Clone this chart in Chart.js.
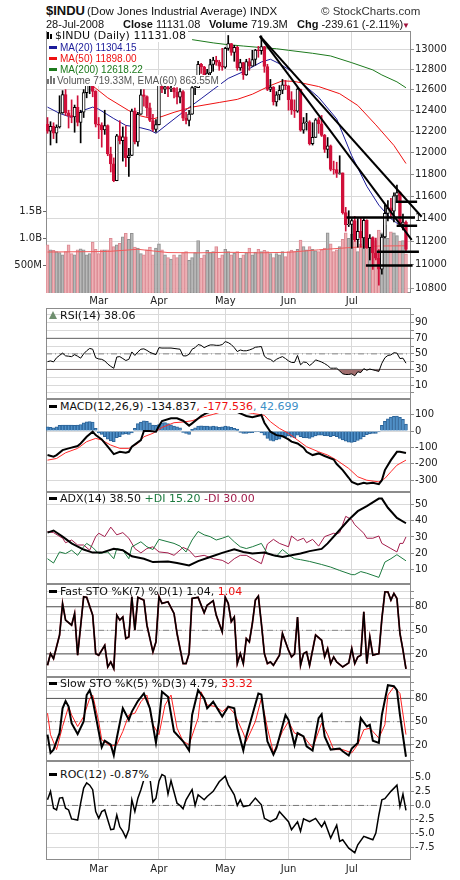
<!DOCTYPE html>
<html>
<head>
<meta charset="utf-8">
<title>$INDU</title>
<script src="https://cdn.jsdelivr.net/npm/chart.js@4.4.1/dist/chart.umd.min.js"></script>
<style>
  body { margin:0; width:460px; height:880px; position:relative; overflow:hidden; background:#fff; }
  canvas { position:absolute; left:0; }
  .t { position:absolute; white-space:nowrap; line-height:13px; font-family:"Liberation Sans", Arial, sans-serif; color:#111; z-index:2; }
  .lg { position:absolute; left:47px; white-space:nowrap; line-height:13px; font:11px "DejaVu Sans", Verdana, sans-serif; color:#111; z-index:2; }
  .bg { background:#fff; padding-right:2px; }
  .ml { font:10px "Liberation Sans", Arial, sans-serif; line-height:11px; }
  .dash { display:inline-block; width:8px; height:3px; background:#000; vertical-align:middle; margin:0 3px 2px 2px; }
  .bar { display:inline-block; width:2px; background:#777; margin-right:1px; vertical-align:baseline; }
</style>
</head>
<body>
<div class="t" style="left:46px;top:4px;font-weight:bold;font-size:13px">$INDU</div>
<div class="t" style="left:87px;top:5px;font-size:11.5px">(Dow Jones Industrial Average) INDX</div>
<div class="t" style="left:321px;top:5px;font-size:11.5px;color:#333">© StockCharts.com</div>
<div class="t" style="left:46px;top:18px;font-size:11px">28-Jul-2008</div>
<div class="t" style="left:123px;top:18px;font-size:11px"><b>Close</b> 11131.08</div>
<div class="t" style="left:209px;top:18px;font-size:11px"><b>Volume</b> 719.3M</div>
<div class="t" style="left:297px;top:18px;font-size:11px"><b>Chg</b> -239.61 (-2.11%)</div>
<div class="t" style="left:402px;top:19px;font-size:8px;color:#a0103a">▼</div>

<canvas id="cMain" width="460" height="286" style="top:21px"></canvas>
<canvas id="cRsi" width="460" height="111" style="top:298px"></canvas>
<canvas id="cMacd" width="460" height="113" style="top:389px"></canvas>
<canvas id="cAdx" width="460" height="112" style="top:482px"></canvas>
<canvas id="cFast" width="460" height="113" style="top:574px"></canvas>
<canvas id="cSlow" width="460" height="104" style="top:667px"></canvas>
<canvas id="cRoc" width="460" height="123" style="top:751px"></canvas>

<div class="lg bg" style="top:30px;line-height:12px"><span class="bar" style="height:7px;background:#000"></span><span class="bar" style="height:5px;background:#000;margin-right:3px"></span>$INDU (Daily) 11131.08</div>
<div class="lg ml bg" style="top:42px;color:#1c1c9a"><span class="dash" style="background:#1c1c9a"></span>MA(20) 11304.15</div>
<div class="lg ml bg" style="top:53px;color:#ee1111"><span class="dash" style="background:#ee1111"></span>MA(50) 11898.00</div>
<div class="lg ml bg" style="top:64px;color:#1d7a1d"><span class="dash" style="background:#1d7a1d"></span>MA(200) 12618.22</div>
<div class="lg ml bg" style="top:75px;color:#555"><span class="bar" style="height:5px"></span><span class="bar" style="height:8px"></span><span class="bar" style="height:6px;margin-right:2px"></span>Volume 719.33M, EMA(60) 863.55M</div>
<div class="lg" style="top:309px"><span style="display:inline-block;width:0;height:0;border-left:4px solid transparent;border-right:4px solid transparent;border-bottom:8px solid #6f8f6f;margin:0 3px 0 2px"></span>RSI(14) 38.06</div>
<div class="lg bg" style="top:400px"><span class="dash"></span>MACD(12,26,9) -134.837<span style="color:#ee1111">, -177.536</span><span style="color:#3d8fc6">, 42.699</span></div>
<div class="lg" style="top:492px"><span class="dash"></span>ADX(14) 38.50 <span style="color:#1b7a3e">+DI 15.20</span> <span style="color:#a31d4c">-DI 30.00</span></div>
<div class="lg" style="top:585px"><span class="dash"></span>Fast STO %K(7) %D(1) 1.04, <span style="color:#ee1111">1.04</span></div>
<div class="lg" style="top:677px"><span class="dash"></span>Slow STO %K(5) %D(3) 4.79, <span style="color:#ee1111">33.32</span></div>
<div class="lg bg" style="top:768px"><span class="dash"></span>ROC(12) -0.87%</div>

<script>
// trading days 6-Feb-2008 .. 28-Jul-2008, index 0..119
var monthNames = ['Mar', 'Apr', 'May', 'Jun', 'Jul'];
var monthStarts = [17, 37, 59, 80, 101];

var opens = [12265,12200,12247,12182,12240,12374,12552,12376,12348,12337,
  12427,12284,12381,12570,12684,12694,12582,12266,12258,12213,
  12254,11986,11894,11740,12156,12110,12146,11951,11972,12392,
  12099,12361,12548,12533,12422,12302,12216,12263,12654,12605,
  12626,12609,12612,12577,12527,12581,12325,12302,12362,12619,
  12620,12849,12825,12721,12763,12848,12891,12871,12831,12820,
  13010,13058,12969,13020,12814,12866,12745,12876,12832,12898,
  12992,12986,13028,12828,12601,12625,12480,12548,12594,12647,
  12638,12503,12402,12390,12604,12210,12280,12289,12083,12141,
  12307,12269,12160,12029,12063,11843,11842,11808,11812,11453,
  11346,11350,11382,11215,11288,11231,11384,11147,11229,11100,
  11055,10962,11239,11446,11496,11467,11603,11632,11349,11370];
var highs = [12330,12290,12280,12260,12540,12590,12600,12400,12500,12450,
  12540,12400,12600,12720,12740,12700,12590,12330,12280,12400,
  12260,12050,11950,12170,12300,12240,12250,12040,12410,12420,
  12380,12600,12600,12540,12470,12360,12310,12660,12720,12680,
  12690,12720,12620,12620,12610,12590,12380,12400,12630,12660,
  12880,12860,12830,12800,12900,12920,12930,12890,13010,13020,
  13140,13060,13040,13030,12900,12870,12900,12910,12990,13000,
  13030,13136,13030,12850,12700,12630,12580,12640,12700,12690,
  12640,12580,12500,12620,12604,12330,12370,12300,12280,12320,
  12330,12350,12170,12140,12070,11920,11910,11970,11812,11500,
  11470,11400,11420,11400,11410,11400,11390,11260,11240,11230,
  11130,11260,11520,11560,11580,11630,11700,11640,11440,11380];
var lows = [12180,12070,12130,12090,12230,12370,12350,12230,12280,12190,
  12250,12090,12330,12520,12560,12530,12240,12130,12050,12170,
  11970,11820,11731,11740,12080,11920,11870,11780,11970,12080,
  12060,12360,12440,12340,12290,12200,12190,12260,12570,12560,
  12530,12580,12520,12460,12470,12300,12270,12250,12360,12550,
  12620,12760,12680,12680,12690,12780,12840,12790,12790,12810,
  12990,12940,12880,12790,12790,12700,12740,12790,12830,12840,
  12920,12950,12770,12590,12580,12450,12440,12500,12560,12600,
  12400,12360,12330,12380,12200,12180,12210,12070,12070,12140,
  12180,12150,12000,11950,11830,11800,11770,11800,11440,11290,
  11330,11140,11200,11150,11150,11140,11140,11040,10960,11040,
  10827,10920,11230,11380,11410,11370,11550,11330,11300,11120];
var closes = [12200,12247,12182,12240,12374,12552,12376,12348,12337,12427,
  12284,12381,12570,12684,12694,12582,12266,12258,12213,12254,
  11986,11894,11740,12156,12110,12146,11951,11972,12392,12099,
  12361,12548,12533,12422,12302,12216,12263,12654,12605,12626,
  12609,12612,12577,12527,12581,12325,12302,12362,12619,12620,
  12849,12825,12721,12763,12848,12891,12871,12831,12820,13010,
  13058,12969,13020,12814,12866,12745,12876,12832,12898,12992,
  12986,13028,12828,12601,12625,12480,12548,12594,12647,12638,
  12503,12402,12390,12604,12210,12280,12289,12083,12141,12307,
  12269,12160,12029,12063,11843,11842,11808,11812,11453,11346,
  11350,11382,11215,11288,11231,11384,11147,11229,11100,11055,
  10962,11239,11446,11496,11467,11603,11632,11349,11370,11131];
// volume in millions
var volumes = [880,790,780,760,740,700,760,880,720,700,790,810,790,700,720,930,800,
  720,790,790,790,1000,850,880,910,1030,1090,980,1090,840,820,720,700,790,840,700,820,
  900,790,700,650,620,700,650,700,740,760,600,650,740,960,640,700,780,740,760,850,640,700,
  800,760,700,730,760,640,700,740,820,700,750,800,760,780,760,720,650,720,700,760,
  665,760,787,760,800,970,850,790,850,800,770,760,790,820,1100,900,760,790,850,980,1100,
  1000,1080,960,760,900,1050,980,1000,1020,960,1150,1100,1240,1000,1120,1100,1050,950,960,719];

// [day, value]
var ma20 = [[0,12430],[4,12370],[8,12330],[12,12400],[15,12430],[17,12410],[22,12320],[26,12255],[31,12232],[34,12210],[36,12180],[40,12270],[46,12405],[51,12512],[55,12600],[60,12710],[66,12790],[71,12873],[74,12900],[77,12856],[81,12780],[85,12650],[90,12525],[96,12317],[101,11970],[106,11690],[110,11520],[114,11400],[118,11320],[119,11304]];
var ma50 = [[14,12660],[20,12520],[27,12396],[31,12345],[35,12317],[38,12340],[42,12380],[48,12430],[57,12475],[63,12505],[68,12555],[74,12640],[78,12686],[82,12680],[90,12630],[97,12560],[103,12446],[109,12260],[115,12066],[119,11898]];
var ma200 = [[48,13098],[55,13065],[59,13050],[65,13033],[70,13020],[76,13006],[80,12990],[88,12960],[94,12933],[101,12866],[108,12794],[111,12744],[116,12676],[119,12618]];
var volEma60 = [[0,750],[20,760],[30,800],[40,740],[50,735],[60,745],[70,735],[80,745],[90,790],[100,830],[110,860],[119,864]];

// drawn trend lines and support/resistance lines: [[day, price], [day, price]]
var trendLines = [[[70.5,13136],[124.2,11417]], [[70.5,13131],[120.9,11213]]];
var flatLines = [[[99.3,11411],[122.0,11411]], [[115.6,11550],[122.7,11550]], [[115.9,11337],[122.7,11337]], [[109.3,11111],[123.3,11111]], [[105.7,10992],[121.2,10992]]];

var rsi = [40,41,39.7,45,48,51,47.5,47,46.5,49,
  47,44.5,50,54,57,56,45,43.5,43,41,
  37,34,31.5,46,46.5,44,41.5,43,52.5,48,
  52.5,56,56.5,54.5,52,50.5,49,58,57.5,57.5,
  57.5,57.5,57,56.5,56,47.5,47.4,49.5,56,58,
  62,61,58,60,61.5,61.5,61,61,62,65.8,
  64.5,62,58,53,55,54,54,55,56.5,58.5,
  59,59.4,47,44,43,40,43,45,46.5,44,
  41,39,38.9,48,36,39.5,39,35,38,42.3,
  41,39.5,37.5,35,31.6,31.6,31.6,28,24.4,23.5,
  23.5,24.4,21.8,27,26,31,29,30.5,29.5,28.5,
  27.5,38,45,48,48.7,51.5,51,44,44.5,38.06];

var macdLine = [[0,-147],[2,-157],[3,-147],[5,-117],[7,-106],[10,-92],[11,-76],[13,-35],[15,-4],[16,-25],[18,-51],[20,-96],[22,-141],[24,-127],[26,-133],[27,-127],[28,-96],[31,-55],[32,0],[34,0],[36,-4],[37,31],[38,61],[41,78],[43,78],[45,63],[47,33],[48,47],[51,92],[53,112],[56,130],[59,140],[62,125],[64,108],[66,92],[68,84],[71,98],[72,51],[74,-4],[76,-25],[78,-31],[80,-51],[81,-65],[83,-76],[85,-102],[86,-127],[88,-147],[90,-137],[92,-153],[95,-174],[96,-202],[98,-239],[100,-286],[101,-311],[103,-327],[105,-317],[106,-321],[108,-317],[110,-325],[111,-301],[112,-239],[114,-178],[116,-127],[117,-127],[119,-135]];
var macdSignal = [[0,-178],[3,-168],[6,-133],[10,-106],[13,-65],[16,-45],[18,-55],[21,-86],[24,-106],[27,-106],[30,-76],[32,-35],[35,-14],[38,22],[42,51],[45,55],[48,63],[52,88],[55,102],[58,119],[62,125],[66,115],[68,108],[72,96],[74,57],[77,16],[80,-14],[83,-55],[86,-96],[90,-127],[93,-147],[96,-178],[100,-229],[103,-280],[106,-301],[110,-311],[112,-290],[114,-249],[116,-209],[119,-178]];
var macdHist = [25,22,20,25,35,37,37,37,36,35,
  37,40,50,57,58,55,16,-12,-20,-35,
  -50,-60,-65,-40,-35,-20,-18,-20,-12,16,
  45,55,62,60,50,37,35,40,50,52,
  45,38,30,25,20,-8,-15,-20,10,20,
  30,32,30,30,28,30,28,22,25,30,
  27,22,16,12,-8,-14,-15,-12,-10,-6,
  -4,-12,-25,-45,-58,-62,-55,-50,-38,-35,
  -30,-38,-40,-25,-35,-40,-42,-45,-38,-30,
  -25,-25,-28,-30,-35,-28,-35,-45,-55,-62,
  -68,-70,-65,-58,-50,-35,-22,-18,-14,-14,
  -5,35,60,75,85,90,92,84,72,43];

var adx = [[0,32.7],[2,34],[5,30.2],[8,26],[12,22.2],[15,20.3],[18,20.3],[22,22.6],[25,21.8],[28,18],[32,16.5],[35,14.4],[40,14.8],[43,13.8],[47,12.3],[50,15],[54,17.6],[58,20.1],[62,22.4],[65,20.7],[68,19.7],[72,20.3],[75,18.6],[78,17.6],[81,18.6],[84,19.7],[87,21.2],[91,22.6],[93,26],[96,32.3],[100,40.7],[103,46],[106,49.2],[110,53.8],[111,53.8],[113,48.1],[116,41.8],[119,38.5]];
var plusDi = [[0,16.5],[2,13.8],[4,20.7],[6,19.7],[8,21.8],[10,18.6],[12,23.9],[13,26],[15,23.5],[17,19.7],[20,20.7],[22,16.5],[23,22.8],[25,21.8],[27,16.5],[28,23.9],[31,27],[33,23.9],[35,22.2],[37,28.5],[40,27],[42,26],[44,24.3],[46,20.7],[48,28.1],[50,33.4],[52,31.3],[54,30.2],[56,28.1],[58,29.2],[60,30.6],[62,27],[64,23.9],[66,22.8],[68,23.9],[71,26],[73,19.7],[76,18],[78,22.2],[81,17.6],[82,16.5],[84,15.9],[87,14.8],[91,12.9],[94,11.3],[97,9.2],[101,6.6],[102,6.6],[104,8.5],[106,7.5],[110,4.9],[112,14.4],[114,16.5],[116,19],[119,15.2]];
var minusDi = [[0,33.4],[2,32.7],[5,29.2],[6,26.4],[8,28.1],[10,25],[12,25],[14,21.8],[16,30.2],[17,32.3],[19,30.2],[21,36.1],[23,31.3],[25,32.7],[27,29.2],[29,22.8],[31,20.1],[33,22.8],[35,23.9],[37,20.7],[40,20.1],[42,18.6],[45,23.5],[47,21.8],[49,17.6],[52,18.6],[55,16.5],[58,15.5],[60,13.4],[62,16.5],[64,18.6],[66,18.6],[68,16.5],[71,13.4],[73,25.6],[75,28.5],[77,26],[80,23.9],[81,30.6],[83,27.7],[85,29.2],[86,26.4],[88,28.5],[90,24.3],[92,30.2],[95,32.3],[96,31.9],[97,32.7],[99,42.8],[101,40.7],[102,37.6],[105,32.3],[106,29.2],[108,29.2],[110,30.6],[111,26],[114,22.8],[116,20.7],[117,26],[118,26],[119,30]];

var fastK = [[0,5.5],[1,20.4],[2,14],[3,29],[4,44],[5,84],[6,63],[8,56.6],[9,71.5],[10,18.3],[12,92.8],[13,92],[15,69.4],[16,20.4],[17,18.3],[19,31],[20,3.4],[21,9.8],[22,1.3],[23,69.4],[24,63],[25,67],[26,39.6],[27,41.7],[28,92.8],[29,50.2],[30,92],[32,88.5],[33,56.6],[35,22.6],[36,35.3],[37,92.8],[38,84.3],[40,86.4],[42,71.5],[43,46],[45,7.7],[46,7.7],[47,20.4],[48,90.6],[50,92],[52,72.3],[53,82],[55,87.7],[56,69.4],[58,48],[59,92],[60,84.3],[61,61],[62,67],[63,7.7],[64,20.4],[65,7.7],[66,39.6],[67,35.3],[68,58.7],[69,88.5],[70,93.6],[71,58.7],[72,20.4],[73,7.7],[74,9.8],[75,5.5],[77,18.3],[78,46],[80,24.7],[81,16.2],[82,20],[83,67],[84,5.5],[85,20.4],[86,22.6],[87,5.5],[89,44],[91,37.4],[92,16.2],[93,26.8],[94,7.7],[95,16.2],[96,9.8],[98,3.4],[100,8.5],[101,26.8],[102,7.7],[103,16.2],[104,18.3],[105,73.6],[106,7.7],[107,41.7],[108,18.3],[110,20.4],[111,65],[112,99],[113,99],[114,88.5],[115,97],[116,90.6],[117,46],[118,25],[119,1.04]];
var fastD = fastK; // %D(1) is the same line
var slowK = [[0,33.2],[1,9.8],[2,14],[4,35.3],[5,67.2],[6,76.6],[7,69.4],[8,48],[10,34],[12,50.2],[13,84.3],[14,90.6],[15,77.9],[17,37.4],[18,17],[19,25.5],[21,20.4],[22,6.8],[23,28.9],[25,67.2],[27,52.3],[28,63],[30,76.6],[32,86.4],[34,67.2],[36,22.6],[37,50.2],[38,88.5],[40,82.1],[42,37.4],[45,24.7],[47,12.8],[48,58.7],[50,90.6],[52,80],[53,67.2],[55,75.7],[58,56.6],[60,69.4],[62,67.2],[63,41.7],[65,12.8],[66,31],[68,58.7],[70,86.4],[71,85.1],[73,24.7],[75,7.7],[76,16.2],[79,58.7],[80,52.3],[82,19.6],[83,35.3],[85,31],[86,18.3],[88,12.8],[90,54.5],[91,59.6],[92,31],[94,14],[97,15.3],[98,11.9],[100,6.4],[101,15.3],[103,22.6],[104,54.5],[106,43.8],[107,46],[108,25.5],[110,22.6],[111,58.7],[113,97],[115,95.7],[116,90.6],[117,58.7],[119,4.79]];
var slowD = [[0,60.9],[1,33.2],[3,14],[5,43.8],[7,69.4],[8,58.7],[10,43.8],[12,56.6],[14,80],[15,84.3],[17,50.2],[18,26.8],[21,18.3],[23,20.4],[25,37.4],[27,58.7],[29,60.9],[31,75.7],[33,84.3],[35,46],[37,33.2],[39,71.5],[41,84.3],[43,41.7],[45,24.7],[47,20.4],[50,54.5],[51,88.5],[53,71.5],[56,69.4],[58,63],[60,69.4],[62,60.9],[65,35.3],[66,24.7],[69,50.2],[71,80],[73,41.7],[75,9.8],[78,37.4],[80,50.2],[82,35.3],[85,31],[88,16.2],[91,48],[93,33.2],[95,14],[98,14],[101,9.8],[103,20.4],[105,39.6],[107,41.7],[110,28.9],[112,46],[113,84.3],[115,94.9],[117,86.4],[119,33.32]];

var roc = [[0,1.0],[1,2.5],[2,-0.5],[3,-0.8],[4,1.3],[5,1.4],[6,-0.5],[7,-0.8],[8,-2.4],[10,-2.6],[11,0.4],[12,3.1],[13,4.0],[14,3.6],[15,2.8],[16,-1.1],[17,-2.3],[18,-1.1],[19,-0.8],[21,-4.3],[22,-4.2],[23,-1.7],[24,-3.8],[25,-4.6],[26,-5.7],[27,-4.3],[28,1.0],[29,-1.1],[30,1.3],[31,2.8],[32,4.6],[34,4.9],[35,0.6],[36,1.3],[37,4.3],[38,5.5],[39,5.2],[40,2.0],[41,4.4],[43,0.4],[44,0],[45,-0.6],[46,1.0],[48,2.8],[49,0],[50,1.9],[52,1.0],[53,1.6],[55,2.5],[57,4.2],[59,5.2],[60,3.7],[62,1.9],[63,0],[64,1.0],[65,-0.2],[67,0],[69,1.3],[71,0.1],[72,-2.3],[74,-2.9],[76,-2.3],[77,-1.1],[78,-1.7],[80,-2.9],[81,-4.3],[83,-2.9],[84,-4.6],[85,-2.4],[87,-2.9],[89,-2.3],[91,-3.8],[92,-2.9],[94,-5.8],[96,-3.5],[97,-6.4],[98,-6.1],[100,-7.6],[102,-8.4],[103,-7.0],[105,-5.5],[106,-5.7],[108,-6.1],[109,-4.9],[110,-1.7],[111,1.0],[112,1.2],[114,2.5],[116,3.6],[117,-0.2],[118,2.0],[119,-0.87]];

var priceTicks = [10800,11000,11200,11400,11600,11800,12000,12200,12400,12600,12800,13000];
var volTicks = [500, 1000, 1500];
var tens = [0,10,20,30,40,50,60,70,80,90,100];

Chart.defaults.animation = false;
Chart.defaults.font.family = '"DejaVu Sans", Verdana, sans-serif';
Chart.defaults.font.size = 10;
Chart.defaults.color = '#222';

var XMIN = -0.5, XMAX = 120.67;
var GRID = '#d9d9d9';
var RED = '#d0103a';

var frame = {
  id: 'frame',
  beforeDatasetsDraw: function(chart) {
    var a = chart.chartArea, c = chart.ctx;
    c.save();
    c.strokeStyle = '#8c8c8c';
    c.lineWidth = 1;
    c.strokeRect(Math.round(a.left) + 0.5, Math.round(a.top) + 0.5, Math.round(a.right - a.left) - 1, Math.round(a.bottom - a.top) - 1);
    c.restore();
  }
};

function pts(a) { return a.map(function(p) { return {x: p[0], y: p[1]}; }); }
function daily(a) { return a.map(function(v, i) { return {x: i, y: v}; }); }

function line(data, color, width, order, extra) {
  return Object.assign({type: 'line', data: data, borderColor: color, borderWidth: width,
    pointRadius: 0, pointHoverRadius: 0, fill: false, tension: 0, order: order}, extra || {});
}
function level(y, color, dash) {
  return line([{x: XMIN, y: y}, {x: XMAX, y: y}], color, 1, 20, {borderDash: dash || []});
}
var DASHDOT = [6, 3, 1, 3];

function xScale(labels, pad) {
  return {
    type: 'linear', min: XMIN, max: XMAX, offset: false,
    grid: {color: GRID, drawTicks: false, offset: false},
    border: {display: false},
    afterBuildTicks: function(s) { s.ticks = monthStarts.map(function(v) { return {value: v}; }); },
    afterFit: function(s) { s.height = labels ? 14 : 0; },
    ticks: {display: labels, padding: pad || 0, autoSkip: false, maxRotation: 0,
      callback: function(v) { return monthNames[monthStarts.indexOf(v)]; }}
  };
}
function yScale(min, max, vals, fmt, type) {
  return {
    type: type || 'linear', position: 'right', min: min, max: max,
    grid: {color: GRID, tickLength: 3, tickColor: '#8c8c8c'},
    border: {display: false},
    afterBuildTicks: function(s) { s.ticks = vals.map(function(v) { return {value: v}; }); },
    afterFit: function(s) { s.width = 49; },
    ticks: {padding: 1, autoSkip: false, callback: fmt}
  };
}
function opts(scales, left, bottom) {
  return {
    responsive: false, animation: false, events: [],
    layout: {padding: {left: left, top: 10, bottom: bottom, right: 0}},
    plugins: {legend: {display: false}, tooltip: {enabled: false}},
    scales: scales
  };
}
function only(list) { return function(v) { return list.indexOf(v) >= 0 ? String(v) : ''; }; }

// ---- price panel
var up = closes.map(function(c, i) { return c >= opens[i]; });
var mainSets = [
  {type: 'bar', yAxisID: 'yv', data: daily(volumes),
    backgroundColor: up.map(function(u) { return u ? '#b9b9b9' : '#eeb1b6'; }),
    borderColor: up.map(function(u) { return u ? '#919191' : '#dc8a93'; }),
    borderWidth: 1, barThickness: 3, grouped: false, order: 10},
  line(pts(volEma60), '#ef5b5b', 1, 9, {yAxisID: 'yv'}),
  line(pts(ma200), '#1d7a1d', 1, 6),
  line(pts(ma50), '#ee1111', 1, 6),
  line(pts(ma20), '#1c1c9a', 1, 6),
  {type: 'bar', yAxisID: 'y', data: lows.map(function(l, i) { return {x: i, y: [l, highs[i]]}; }),
    backgroundColor: up.map(function(u) { return u ? '#000' : RED; }),
    barThickness: 1, grouped: false, order: 5},
  {type: 'bar', yAxisID: 'y', data: opens.map(function(o, i) { return {x: i, y: [o, closes[i]]}; }),
    backgroundColor: up.map(function(u) { return u ? '#fff' : RED; }),
    borderColor: up.map(function(u) { return u ? '#000' : RED; }),
    borderWidth: 1, borderSkipped: false, barThickness: 3, grouped: false, order: 4}
];
trendLines.forEach(function(t) { mainSets.push(line(pts(t), '#000', 2, 0, {clip: false})); });
flatLines.forEach(function(t) { mainSets.push(line(pts(t), '#000', 2.5, 0, {clip: false})); });

var mainScales = {
  x: xScale(true, 2),
  y: yScale(10761, 13186, priceTicks, function(v) { return String(v); }, 'logarithmic'),
  yv: {
    type: 'linear', position: 'left', min: 0, max: 4795,
    grid: {drawOnChartArea: false, tickLength: 3, tickColor: '#666'},
    border: {display: false},
    afterBuildTicks: function(s) { s.ticks = volTicks.map(function(v) { return {value: v}; }); },
    afterFit: function(s) { s.width = 46; },
    ticks: {padding: 1, callback: function(v) { return v < 1000 ? v + 'M' : (v / 1000).toFixed(1) + 'B'; }}
  }
};
new Chart(document.getElementById('cMain'), {type: 'bar', data: {datasets: mainSets},
  options: opts(mainScales, 0, 0), plugins: [frame]});

// ---- RSI
new Chart(document.getElementById('cRsi'), {type: 'line', data: {datasets: [
  level(70, '#666'), level(30, '#666'), level(50, '#888', DASHDOT),
  line(daily(rsi), '#000', 1, 1, {fill: {target: {value: 30}, above: 'rgba(0,0,0,0)', below: '#a06e6e'}})
]}, options: opts({x: xScale(false), y: yScale(-8, 109, tens, only([10, 30, 50, 70, 90]))}, 46, 10), plugins: [frame]});

// ---- MACD
new Chart(document.getElementById('cMacd'), {type: 'bar', data: {datasets: [
  {type: 'bar', data: daily(macdHist), backgroundColor: '#4f90c8', borderColor: '#2c6499',
    borderWidth: 1, barThickness: 3, grouped: false, order: 5},
  line(pts(macdSignal), '#ff2a2a', 1, 2),
  line(pts(macdLine), '#000', 2, 1)
]}, options: opts({x: xScale(false), y: yScale(-373, 196, [-300, -200, -100, 0, 100], function(v) { return String(v); })}, 46, 10), plugins: [frame]});

// ---- ADX
new Chart(document.getElementById('cAdx'), {type: 'line', data: {datasets: [
  line(pts(minusDi), '#a31d4c', 1, 3),
  line(pts(plusDi), '#1b7a3e', 1, 2),
  line(pts(adx), '#000', 2, 1)
]}, options: opts({x: xScale(false), y: yScale(0.8, 57.9, [10, 20, 30, 40, 50], function(v) { return String(v); })}, 46, 10), plugins: [frame]});

// ---- Fast STO
new Chart(document.getElementById('cFast'), {type: 'line', data: {datasets: [
  level(80, '#555'), level(20, '#555'), level(50, '#888', DASHDOT),
  line(pts(fastD), '#8a1020', 1.8, 2),
  line(pts(fastK), '#000', 1.4, 1)
]}, options: opts({x: xScale(false), y: yScale(-9.4, 109, tens, only([20, 50, 80]))}, 46, 10), plugins: [frame]});

// ---- Slow STO
new Chart(document.getElementById('cSlow'), {type: 'line', data: {datasets: [
  level(80, '#555'), level(20, '#555'), level(50, '#888', DASHDOT),
  line(pts(slowD), '#ff2020', 1, 2),
  line(pts(slowK), '#000', 2, 1)
]}, options: opts({x: xScale(false), y: yScale(-0.7, 107.6, tens, only([20, 50, 80]))}, 46, 10), plugins: [frame]});

// ---- ROC
new Chart(document.getElementById('cRoc'), {type: 'line', data: {datasets: [
  level(0, '#777', DASHDOT),
  line(pts(roc), '#000', 1.5, 1)
]}, options: opts({x: xScale(true, 3), y: yScale(-9.7, 7.9, [-7.5, -5, -2.5, 0, 2.5, 5], function(v) { return v.toFixed(1); })}, 46, 0), plugins: [frame]});
</script>
</body>
</html>
